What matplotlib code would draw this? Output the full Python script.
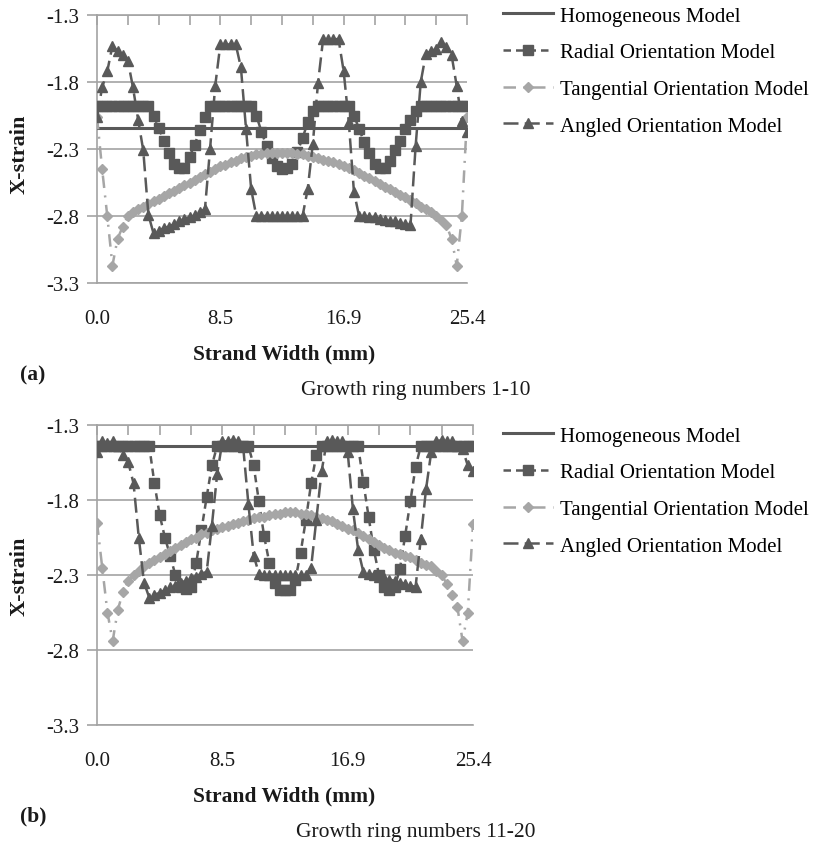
import matplotlib.pyplot as plt
from matplotlib.lines import Line2D

W, H = 816, 845
DARK = '#595959'
LIGHT = '#a6a6a6'
GRID = '#a3a3a3'
TXT = '#1a1a1a'

plt.rcParams['font.family'] = ['Liberation Serif', 'DejaVu Serif']

series_names = ['Homogeneous Model', 'Radial Orientation Model',
                'Tangential Orientation Model', 'Angled Orientation Model']
x_tick_pos = [0, 24, 48, 72]
x_tick_labels = ['0.0', '8.5', '16.9', '25.4']
y_ticks = [-1.3, -1.8, -2.3, -2.8, -3.3]

# (a) growth rings 1-10
homogeneous_a = -2.14
radial_a = [
    -1.98, -1.98, -1.98, -1.98, -1.98, -1.98, -1.98, -1.98, -1.98, -1.98, -1.98,
    -2.05, -2.14, -2.24, -2.33, -2.41, -2.44, -2.44, -2.36, -2.27, -2.16, -2.06,
    -1.98, -1.98, -1.98, -1.98, -1.98, -1.98, -1.98, -1.98, -1.98,
    -2.05, -2.17, -2.28, -2.37, -2.43, -2.45, -2.44, -2.41, -2.32, -2.22, -2.10, -2.02,
    -1.98, -1.98, -1.98, -1.98, -1.98, -1.98, -1.98,
    -2.05, -2.15, -2.25, -2.33, -2.41, -2.44, -2.44, -2.39, -2.31, -2.24, -2.15, -2.08, -2.02,
    -1.98, -1.98, -1.98, -1.98, -1.98, -1.98, -1.98, -1.98, -1.98, -1.98,
]
tangential_a = [
    -2.06, -2.45, -2.80, -3.17, -2.97, -2.88, -2.80, -2.77, -2.75, -2.73, -2.71,
    -2.69, -2.67, -2.65, -2.63, -2.61, -2.59, -2.57, -2.55, -2.53, -2.51, -2.49,
    -2.47, -2.45, -2.43, -2.42, -2.40, -2.39, -2.37, -2.36, -2.35, -2.34, -2.34,
    -2.33, -2.33, -2.33, -2.33, -2.33, -2.33, -2.34, -2.34, -2.35, -2.36, -2.37,
    -2.38, -2.39, -2.40, -2.41, -2.43, -2.44, -2.46, -2.48, -2.50, -2.52, -2.54,
    -2.56, -2.58, -2.60, -2.62, -2.64, -2.66, -2.68, -2.70, -2.73, -2.75, -2.77,
    -2.80, -2.83, -2.87, -2.97, -3.17, -2.80, -2.06,
]
angled_a = [
    -2.06, -1.84, -1.72, -1.53, -1.57, -1.60, -1.64, -1.84, -2.08, -2.31, -2.79,
    -2.93, -2.91, -2.89, -2.88, -2.86, -2.84, -2.82, -2.81, -2.79, -2.77, -2.75,
    -2.30, -1.83, -1.52, -1.52, -1.52, -1.52, -1.69, -2.15, -2.60,
    -2.80, -2.80, -2.80, -2.80, -2.80, -2.80, -2.80, -2.80, -2.80, -2.80,
    -2.60, -2.26, -1.81, -1.48, -1.48, -1.48, -1.48, -1.72, -2.10, -2.62,
    -2.80, -2.80, -2.81, -2.81, -2.82, -2.83, -2.84, -2.84, -2.85, -2.86, -2.87,
    -2.28, -1.80, -1.59, -1.57, -1.55, -1.50, -1.54, -1.60, -1.83, -2.09, -2.17,
]

# (b) growth rings 11-20
homogeneous_b = -1.44
radial_b = [
    -1.44, -1.44, -1.44, -1.44, -1.44, -1.44, -1.44, -1.44, -1.44, -1.44, -1.44,
    -1.69, -1.90, -2.05, -2.17, -2.30, -2.38, -2.39, -2.38, -2.22, -2.00, -1.78, -1.57,
    -1.44, -1.44, -1.44, -1.44, -1.44, -1.44, -1.44,
    -1.57, -1.81, -2.04, -2.22, -2.35, -2.40, -2.40, -2.40, -2.33, -2.15, -1.93, -1.69, -1.50,
    -1.44, -1.44, -1.44, -1.44, -1.44, -1.44, -1.44, -1.44,
    -1.68, -1.91, -2.13, -2.30, -2.38, -2.40, -2.38, -2.26, -2.04, -1.81, -1.58,
    -1.44, -1.44, -1.44, -1.44, -1.44, -1.44, -1.44, -1.44, -1.44, -1.44, -1.44,
]
tangential_b = [
    -1.95, -2.25, -2.55, -2.74, -2.53, -2.41, -2.34, -2.30, -2.27, -2.24, -2.22,
    -2.20, -2.18, -2.16, -2.14, -2.12, -2.10, -2.08, -2.06, -2.05, -2.03, -2.02,
    -2.00, -1.99, -1.98, -1.97, -1.96, -1.95, -1.94, -1.93, -1.92, -1.91, -1.91,
    -1.90, -1.89, -1.89, -1.88, -1.88, -1.88, -1.89, -1.89, -1.90, -1.91, -1.92,
    -1.93, -1.94, -1.96, -1.97, -1.99, -2.00, -2.02, -2.04, -2.06, -2.08, -2.10,
    -2.12, -2.13, -2.15, -2.16, -2.17, -2.18, -2.20, -2.22, -2.23, -2.24, -2.27,
    -2.30, -2.36, -2.43, -2.51, -2.74, -2.55, -1.96,
]
angled_b = [
    -1.48, -1.41, -1.42, -1.41, -1.44, -1.50, -1.55, -1.69, -2.05, -2.35, -2.45,
    -2.43, -2.42, -2.40, -2.38, -2.37, -2.35, -2.34, -2.32, -2.31, -2.29, -2.28,
    -1.97, -1.63, -1.41, -1.41, -1.40, -1.41,
    -1.45, -1.83, -2.17, -2.29,
    -2.30, -2.30, -2.30, -2.30, -2.30, -2.30, -2.30, -2.30, -2.30,
    -2.25, -1.93, -1.61, -1.41, -1.40, -1.41, -1.41,
    -1.48, -1.86, -2.13, -2.28,
    -2.29, -2.30, -2.31, -2.32, -2.33, -2.34, -2.35, -2.36, -2.37, -2.38,
    -2.06, -1.73, -1.48, -1.41, -1.40, -1.41, -1.41, -1.44, -1.46, -1.57, -1.61,
]

STYLES = [
    dict(color=DARK, lw=2.2, ls='-'),
    dict(color=DARK, lw=1.8, ls=(0, (3, 2)), marker='s', ms=6.5, mfc=DARK, mec=DARK),
    dict(color=LIGHT, lw=1.8, ls=(0, (5, 3, 0.8, 3)), marker='D', ms=5, mfc=LIGHT, mec=LIGHT),
    dict(color=DARK, lw=1.8, ls=(0, (6, 2.5)), marker='^', ms=7, mfc=DARK, mec=DARK),
]


def px_axes(fig, left, top, right, bottom):
    return fig.add_axes([left / W, 1 - bottom / H, (right - left) / W, (bottom - top) / H])


def draw_panel(ax, homog, radial, tangential, angled):
    idx = list(range(len(radial)))
    ax.axhline(homog, zorder=3, **STYLES[0])
    ax.plot(idx, radial, zorder=4, **STYLES[1])
    ax.plot(idx, tangential, zorder=5, **STYLES[2])
    ax.plot(idx, angled, zorder=6, **STYLES[3])

    ax.set_xlim(0, len(radial) - 1)
    ax.set_ylim(-3.3, -1.3)
    ax.set_yticks(y_ticks)
    ax.set_yticklabels([f'{v:.1f}' for v in y_ticks])
    ax.set_xticks(x_tick_pos)
    ax.set_xticklabels(x_tick_labels)
    ax.set_xticks(range(0, len(radial), 6), minor=True)
    ax.yaxis.grid(True, color=GRID, lw=1.2)
    ax.set_axisbelow(True)

    ax.tick_params(axis='x', which='both', top=True, bottom=False, labeltop=False,
                   labelbottom=True, direction='in', length=7, color=GRID, width=1.2,
                   labelsize=15, labelcolor=TXT, pad=19)
    ax.tick_params(axis='y', direction='out', length=7, color=GRID, width=1.2,
                   labelsize=15, labelcolor=TXT, pad=6)
    ax.spines['right'].set_visible(False)
    for s in ['left', 'top', 'bottom']:
        ax.spines[s].set_color(GRID)
        ax.spines[s].set_linewidth(1.2)

    handles = [Line2D([], [], **st) for st in STYLES]
    return handles


fig = plt.figure(figsize=(W / 100, H / 100), dpi=100)

ax_a = px_axes(fig, 97, 16, 467, 284)
handles = draw_panel(ax_a, homogeneous_a, radial_a, tangential_a, angled_a)
ax_b = px_axes(fig, 97, 426, 473, 726)
draw_panel(ax_b, homogeneous_b, radial_b, tangential_b, angled_b)

for top in [7, 427]:
    fig.legend(handles, series_names, loc='upper left',
               bbox_to_anchor=(503 / W, 1 - top / H), frameon=False,
               fontsize=15, handlelength=2.4, handletextpad=0.35,
               labelspacing=0.82, borderpad=0, borderaxespad=0, numpoints=1)

# axis titles and captions
for yc, xl_y, tag_y, cap_y, tag, cap in [
        (154, 354, 375, 391, '(a)', 'Growth ring numbers 1-10'),
        (576, 796, 816, 833, '(b)', 'Growth ring numbers 11-20')]:
    fig.text(20 / W, 1 - yc / H, 'X-strain', rotation=90, ha='center', va='center',
             fontsize=16, fontweight='bold', color=TXT)
    fig.text(284 / W, 1 - xl_y / H, 'Strand Width (mm)', ha='center', va='center',
             fontsize=15.5, fontweight='bold', color=TXT)
    fig.text(20 / W, 1 - tag_y / H, tag, ha='left', va='center',
             fontsize=15.5, fontweight='bold', color=TXT)
    fig.text(416 / W, 1 - cap_y / H, cap, ha='center', va='center',
             fontsize=15.5, color=TXT)

fig.savefig('out.png', dpi=100)
